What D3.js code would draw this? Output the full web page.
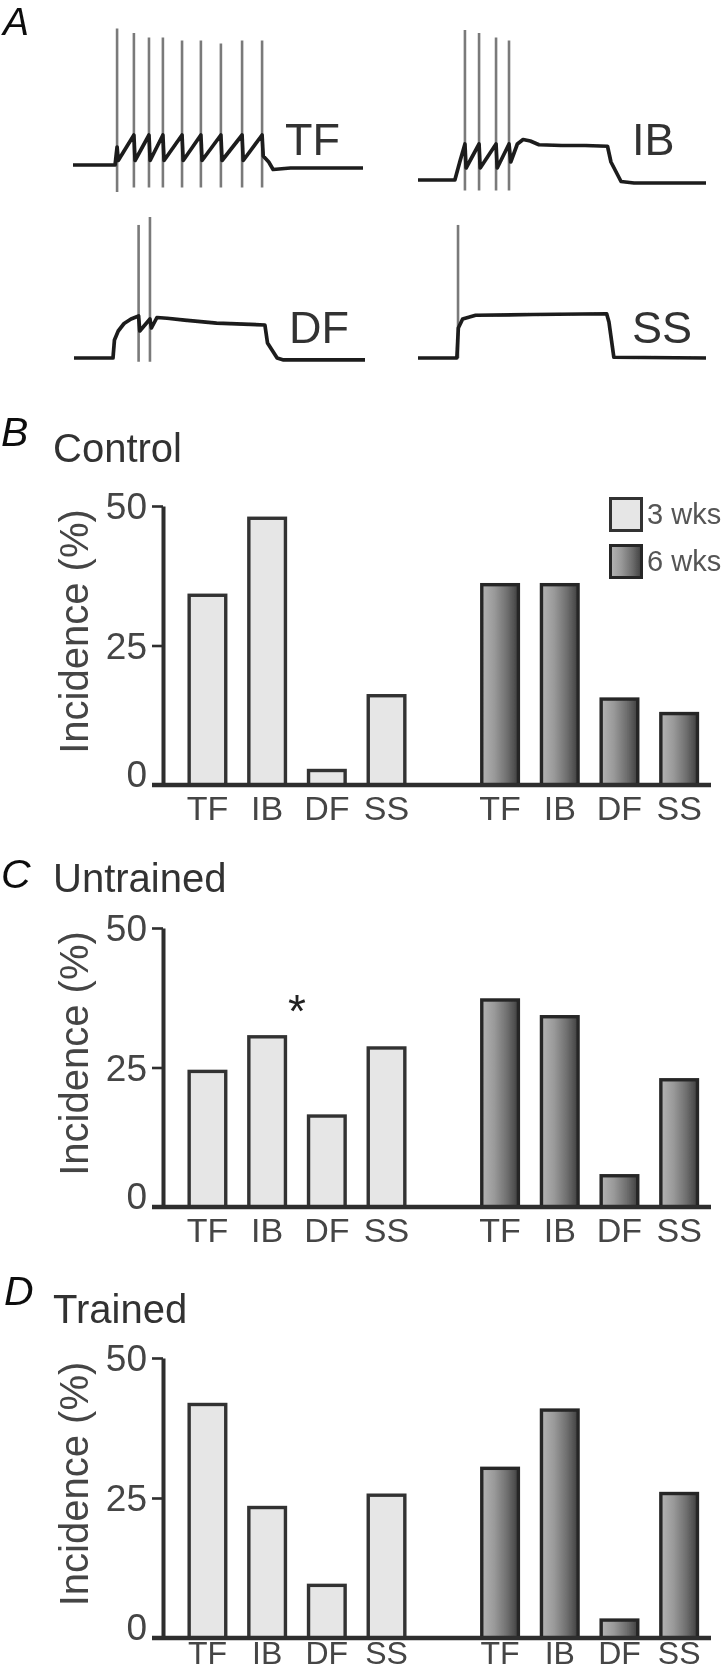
<!DOCTYPE html>
<html><head><meta charset="utf-8">
<script src="https://cdn.jsdelivr.net/npm/d3@7"></script>
<style>
body{margin:0;background:#fff}
svg{display:block}
text{font-family:"Liberation Sans",Arial,Helvetica,sans-serif}
</style>
</head><body>
<svg id="chart" width="724" height="1672"></svg>
<script>
// ---------------- DATA ----------------
const categories = ["TF", "IB", "DF", "SS"];
const groups = ["3 wks", "6 wks"];
const yTickValues = [0, 25, 50];
const yLabel = "Incidence (%)";

const panelTitles = ["Control", "Untrained", "Trained"];
const panelLetters = ["B", "C", "D"];

// incidence (%) per category, 3 wks and 6 wks
const controlWk3   = [34.0, 47.8, 2.6, 16.0];
const controlWk6   = [35.9, 35.9, 15.4, 12.8];
const untrainedWk3 = [24.3, 30.5, 16.3, 28.5];
const untrainedWk6 = [37.1, 34.1, 5.6, 22.8];
const trainedWk3   = [41.7, 23.3, 9.4, 25.5];
const trainedWk6   = [30.3, 40.7, 3.2, 25.8];

// significance mark (Untrained, 3 wks, between IB and DF)
const starPanel = "Untrained";
const starGroup = "3 wks";
const starBetween = ["IB", "DF"];
const starValue = 37;

// Example firing patterns (panel A): time in % of sweep, voltage in mV
const traceNames = ["TF", "IB", "DF", "SS"];
const tfPath = [[0,-70],[14.5,-70],[15.2,-58],[15.6,-67],[21.0,-50],[21.4,-67],[26.2,-50],[26.6,-67],[31.0,-50],
  [31.4,-67],[37.6,-50],[38.0,-67],[44.1,-50],[44.5,-67],[51.0,-50],[51.4,-67],[58.3,-50],[58.7,-67],[65.2,-50],
  [65.6,-64],[67.5,-68],[69.0,-73],[75,-72],[100,-72]];
const tfSpikes = [[15.2,21,-88],[21.0,18,-85],[26.2,15,-85],[31.0,15,-85],[37.6,13,-85],[44.1,13,-85],[51.0,11,-85],[58.3,13,-85],[65.2,13,-85]];
const ibPath = [[0,-70],[12.8,-70],[14.5,-58],[16.3,-46],[16.7,-62],[21.2,-46],[21.6,-62],[27.1,-46],[27.5,-62],[31.6,-46],
  [32.2,-58],[34.5,-46],[36.5,-43],[39,-44],[42,-46.5],[50,-47],[58,-47],[65.8,-47.5],[67,-58],[70.5,-71],[75,-72],[100,-72]];
const ibSpikes = [[16.3,30,-77],[21.2,28,-77],[27.1,25,-77],[31.6,23,-77]];
const dfPath = [[0,-70],[13.4,-70],[13.9,-58],[15.2,-52],[17.2,-47],[19.6,-44],[22.2,-42],[22.6,-52],[26.1,-44],[26.6,-50],
  [28.5,-43],[32,-43.5],[38,-44.7],[49,-46.7],[65.6,-48],[66.5,-60],[69.8,-70],[72,-71.3],[100,-71.3]];
const dfSpikes = [[22.2,18.7,-72.5],[26.1,24,-72.5]];
const ssPath = [[0,-70],[13.5,-70],[14.0,-50],[15.5,-44],[20,-41.5],[40,-41],[65.5,-40.5],[66.3,-46],[68,-69.5],[100,-70]];
const ssSpikes = [[13.9,18.7,-70]];

// ---------------- LAYOUT ----------------
const svg = d3.select("#chart");

const defs = svg.append("defs");
defs.append("filter").attr("id","soft").attr("x","-5%").attr("y","-5%").attr("width","110%").attr("height","110%")
  .append("feGaussianBlur").attr("stdDeviation", 0.55);
const grad = defs.append("linearGradient").attr("id","dark").attr("x1","0").attr("x2","1").attr("y1","0").attr("y2","0");
[[0,"#b4b4b4"],[0.35,"#999"],[0.7,"#6e6e6e"],[1,"#404040"]].forEach(([o,c]) =>
  grad.append("stop").attr("offset", o).attr("stop-color", c));

const root = svg.append("g").attr("filter","url(#soft)");

// ---------- Panel A: traces ----------
const traceData = {
  TF: {path: tfPath, spikes: tfSpikes},
  IB: {path: ibPath, spikes: ibSpikes},
  DF: {path: dfPath, spikes: dfSpikes},
  SS: {path: ssPath, spikes: ssSpikes}
};
const traceLayout = {
  TF: {x0: 73, x1: 363, base: 165, lx: 285, ly: 155},
  IB: {x0: 418, x1: 706, base: 180, lx: 632, ly: 155},
  DF: {x0: 74, x1: 365, base: 358, lx: 289, ly: 343},
  SS: {x0: 418, x1: 706, base: 358, lx: 632, ly: 343}
};
const mvPx = 1.5;

root.append("text").attr("x", 3).attr("y", 35).attr("font-size", 39).attr("font-style","italic")
  .attr("fill","#111").text("A");

traceNames.forEach(name => {
  const L = traceLayout[name], D = traceData[name];
  const tx = d3.scaleLinear().domain([0, 100]).range([L.x0, L.x1]);
  const vy = d3.scaleLinear().domain([-70, 30]).range([L.base, L.base - 100 * mvPx]);
  const g = root.append("g");
  g.selectAll("line.spike").data(D.spikes).join("line").attr("class","spike")
    .attr("x1", d => tx(d[0])).attr("x2", d => tx(d[0]))
    .attr("y1", d => vy(d[2])).attr("y2", d => vy(d[1]))
    .attr("stroke", "#7a7a7a").attr("stroke-width", 2.6);
  const line = d3.line().x(d => tx(d[0])).y(d => vy(d[1]));
  g.append("path").attr("d", line(D.path)).attr("fill","none")
    .attr("stroke","#1c1c1c").attr("stroke-width", 3.7).attr("stroke-linejoin","round");
  g.append("text").attr("x", L.lx).attr("y", L.ly).attr("font-size", 45).attr("fill","#333").text(name);
});

// ---------- Panels B-D: bar charts ----------
const panelData = [
  {title: panelTitles[0], letter: panelLetters[0], wk3: controlWk3, wk6: controlWk6},
  {title: panelTitles[1], letter: panelLetters[1], wk3: untrainedWk3, wk6: untrainedWk6},
  {title: panelTitles[2], letter: panelLetters[2], wk3: trainedWk3, wk6: trainedWk6}
];
const panelLayout = [
  {y50: 506, y0: 785, letterX: 1, letterY: 446, titleY: 462, xlabDy: 35, xlabSize: 34},
  {y50: 928, y0: 1207, letterX: 1, letterY: 888, titleY: 892, xlabDy: 35, xlabSize: 34},
  {y50: 1358, y0: 1638, letterX: 4, letterY: 1305, titleY: 1323, xlabDy: 26, xlabSize: 32}
];
const axisX = 163;
const xGroup = d3.scaleBand().domain(groups).range([177.6, 709]).paddingInner(0.184);
const xCat = d3.scaleBand().domain(categories).range([0, xGroup.bandwidth()]).paddingInner(0.33).paddingOuter(0.165);
const barStroke = 3.4;
const ink = "#2e2e2e";

panelData.forEach((P, i) => {
  const L = panelLayout[i];
  const y = d3.scaleLinear().domain([0, 50]).range([L.y0, L.y50]);
  const g = root.append("g");

  g.append("text").attr("x", L.letterX).attr("y", L.letterY).attr("font-size", 41)
    .attr("font-style","italic").attr("fill","#111").text(P.letter);
  g.append("text").attr("x", 53).attr("y", L.titleY).attr("font-size", 40).attr("fill","#333").text(P.title);

  // y label
  g.append("text")
    .attr("transform", `translate(88,${(L.y0 + L.y50) / 2 - 14}) rotate(-90)`)
    .attr("text-anchor","middle").attr("font-size", 40).attr("fill","#444").text(yLabel);

  // bars
  const rows = [];
  groups.forEach((grp, gi) => {
    const vals = gi === 0 ? P.wk3 : P.wk6;
    categories.forEach((c, ci) => rows.push({grp, c, v: vals[ci]}));
  });
  g.selectAll("rect.bar").data(rows).join("rect").attr("class","bar")
    .attr("x", d => xGroup(d.grp) + xCat(d.c) + barStroke / 2)
    .attr("width", xCat.bandwidth() - barStroke)
    .attr("y", d => y(d.v))
    .attr("height", d => y(0) - y(d.v))
    .attr("fill", d => d.grp === groups[0] ? "#e6e6e6" : "url(#dark)")
    .attr("stroke", d => d.grp === groups[0] ? "#333" : "#262626")
    .attr("stroke-width", barStroke);

  // y axis
  const ax = d3.axisLeft(y).tickValues(yTickValues).tickSizeInner(11).tickSizeOuter(0).tickPadding(5)
    .tickFormat(d3.format("d"));
  const ag = g.append("g").attr("transform", `translate(${axisX},0)`).call(ax);
  ag.select(".domain").attr("stroke", ink).attr("stroke-width", 4);
  ag.selectAll(".tick line").attr("stroke", ink).attr("stroke-width", 2.6);
  ag.selectAll(".tick text").attr("font-size", 37).attr("fill","#444")
    .attr("font-family",'"Liberation Sans",Arial,sans-serif')
    .attr("dy", d => d === 0 ? "0.05em" : "0.34em");

  // x baseline
  g.append("line").attr("x1", axisX - 11).attr("x2", 711).attr("y1", y(0)).attr("y2", y(0))
    .attr("stroke", ink).attr("stroke-width", 4.5);

  // x labels
  g.selectAll("text.xl").data(rows).join("text").attr("class","xl")
    .attr("x", d => xGroup(d.grp) + xCat(d.c) + xCat.bandwidth() / 2)
    .attr("y", y(0) + L.xlabDy).attr("text-anchor","middle").attr("font-size", L.xlabSize).attr("fill","#444")
    .text(d => d.c);

  // significance star
  if (P.title === starPanel) {
    const xa = xGroup(starGroup) + xCat(starBetween[0]) + xCat.bandwidth();
    const xb = xGroup(starGroup) + xCat(starBetween[1]);
    g.append("text").attr("x", (xa + xb) / 2).attr("y", y(starValue)).attr("dy","0.57em")
      .attr("text-anchor","middle").attr("font-size", 46).attr("fill","#222").text("*");
  }

  // legend (first panel only)
  if (i === 0) {
    const lg = g.append("g");
    groups.forEach((grp, gi) => {
      const ly = [497, 544][gi];
      lg.append("rect").attr("x", 609 + 1.5).attr("y", ly + 1.5).attr("width", 31).attr("height", 32)
        .attr("fill", gi === 0 ? "#e6e6e6" : "url(#dark)")
        .attr("stroke", gi === 0 ? "#333" : "#262626").attr("stroke-width", 3);
      lg.append("text").attr("x", 647).attr("y", ly + 27).attr("font-size", 29).attr("fill","#555").text(grp);
    });
  }
});
</script>
</body></html>
